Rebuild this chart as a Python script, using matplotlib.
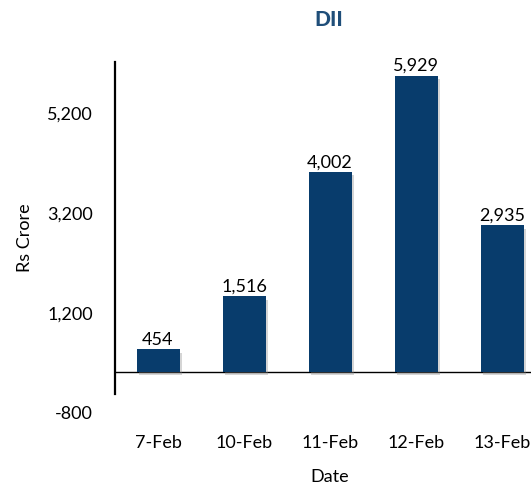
import matplotlib
matplotlib.use("Agg")
import matplotlib.pyplot as plt
import matplotlib.patheffects as pe

dates = ["7-Feb", "10-Feb", "11-Feb", "12-Feb", "13-Feb"]
flows = [454, 1516, 4002, 5929, 2935]
yticks = [-800, 1200, 3200, 5200]

plt.rcParams["font.family"] = ["Lato", "DejaVu Sans"]

W, H = 531, 485
fig = plt.figure(figsize=(W / 100, H / 100), dpi=100)
ax = fig.add_axes([115 / W, (H - 413) / H, 430 / W, 350 / H])

bar_color = "#083c6c"
x = range(len(dates))
bars = ax.bar(x, flows, width=0.5, color=bar_color, zorder=3)
for b in bars:
    b.set_path_effects([pe.SimplePatchShadow(offset=(1.5, -2.5), shadow_rgbFace="#888888", alpha=0.35),
                        pe.Normal()])

fs = 13
for xi, v in zip(x, flows):
    ax.text(xi, v + 50, f"{v:,}", ha="center", va="bottom", fontsize=fs, color="black", zorder=4)

ax.axhline(0, color="black", lw=1.0, zorder=2)

ax.set_xlim(-0.5, len(dates) - 0.5)
ax.set_ylim(-800, 6200)
ax.set_yticks(yticks)
ax.set_yticklabels([f"{t:,}" for t in yticks])
ax.set_xticks(list(x))
ax.set_xticklabels(dates)
ax.tick_params(axis="y", length=0, pad=16, labelsize=fs)
ax.tick_params(axis="x", length=0, pad=16, labelsize=fs)

for s in ["top", "right", "bottom"]:
    ax.spines[s].set_visible(False)
ax.spines["left"].set_linewidth(1.6)
ax.spines["left"].set_bounds(-440, 6200)

ax.set_ylabel("Rs Crore", fontsize=fs, labelpad=10)
ax.set_xlabel("Date", fontsize=fs, labelpad=13)

fig.text(329 / W, 1 - 19 / H, "DII", ha="center", va="center", fontsize=15,
         fontweight="black", color="#1f4e79")

fig.savefig("out.png", dpi=100)
